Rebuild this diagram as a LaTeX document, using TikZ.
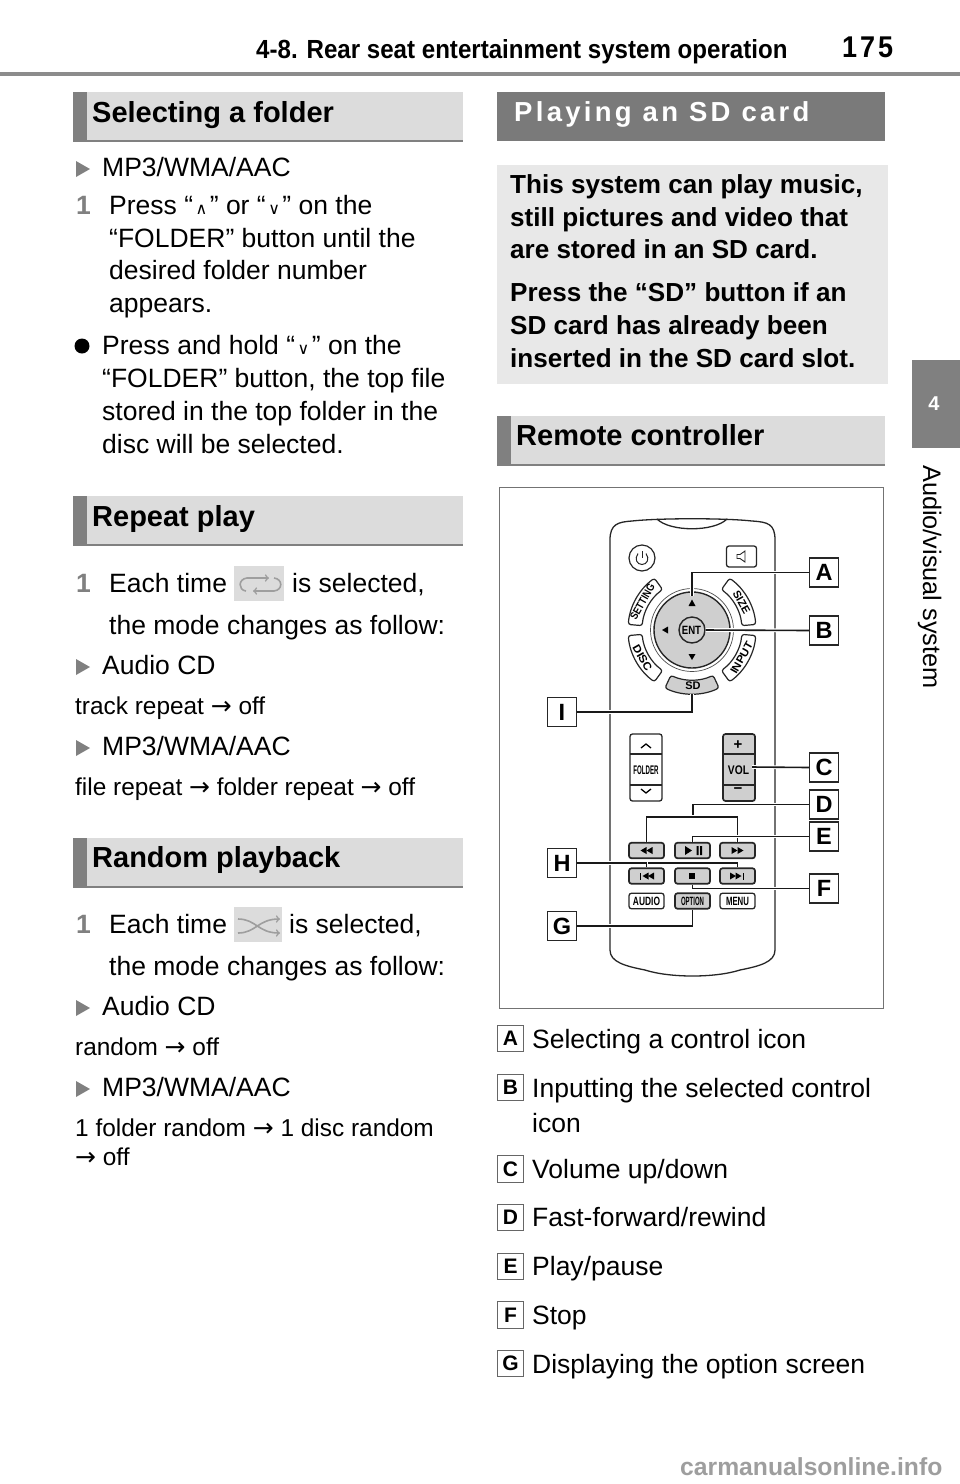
\documentclass[tikz,border=0pt]{standalone}
\usepackage{fontspec}
\setmainfont{Liberation Sans}
\newfontfamily\symfont{DejaVu Sans}
\newfontfamily\headfont[FakeStretch=0.92]{Liberation Sans}
\newfontfamily\spacedfont[LetterSpace=12]{Liberation Sans}
\newfontfamily\pagefont[LetterSpace=10,FakeStretch=0.9]{Liberation Sans}
\usetikzlibrary{positioning}
\definecolor{bandgray}{HTML}{DCDCDC}
\definecolor{stripgray}{HTML}{808080}
\definecolor{panelgray}{HTML}{E8E8E8}
\definecolor{keygray}{HTML}{CFCFCF}
\tikzset{
        bodytext/.style={anchor=base west, inner sep=0pt, font=\fontsize{26.5}{30}\selectfont},
        smalltext/.style={anchor=base west, inner sep=0pt, font=\fontsize{24.4}{26}\selectfont},
        stepnum/.style={anchor=base west, inner sep=0pt, text=stripgray, font=\fontsize{26.5}{30}\selectfont\bfseries},
        paneltext/.style={anchor=base west, inner sep=0pt, font=\fontsize{26.1}{30}\selectfont\bfseries},
        bandtitle/.style={anchor=base west, inner sep=0pt, font=\fontsize{29}{32}\selectfont\bfseries},
        band/.style={anchor=north west, inner sep=0pt, fill=bandgray, minimum width=390pt, minimum height=50pt},
        keylabel/.style={draw=black!85, fill=white, line width=1.5pt, minimum size=29pt, inner sep=0pt, font=\fontsize{23.5}{26}\selectfont\bfseries},
        itemlabel/.style={draw=black!60, line width=1.1pt, minimum size=26.5pt, inner sep=0pt, font=\fontsize{21}{24}\selectfont\bfseries},
        keybtn/.style={draw=black!85, rounded corners=2.5pt, line width=1.3pt, minimum width=35pt, minimum height=15.5pt, inner sep=0pt},
        graykey/.style={keybtn, fill=keygray, line width=1.7pt},
        keytext/.style={inner sep=0pt, font=\fontsize{12}{13}\selectfont\bfseries},
        padkey/.style={draw=black!85, line width=1.2pt, rounded corners=2.5pt},
        padtext/.style={inner sep=0pt, font=\fontsize{11}{12}\selectfont\bfseries},
        conn/.style={line width=1.6pt, black!90, preaction={draw=white, line width=3.8pt}},
        iconline/.style={draw=black!38, line width=1.6pt},
    }
\newcommand{\padsector}[3]{\draw[padkey, #3] (#1:64) arc[start angle=#1, end angle=#2, radius=64] -- (#2:50) arc[start angle=#2, end angle=#1, radius=50] -- cycle;}
\newcommand{\lefttri}[2]{\fill (#1+3,#2-3.5) -- (#1-3,#2) -- (#1+3,#2+3.5) -- cycle;}
\newcommand{\righttri}[2]{\fill (#1-3,#2-3.5) -- (#1+3,#2) -- (#1-3,#2+3.5) -- cycle;}
\newcommand{\upsym}{\hspace{2.5pt}{\symfont\fontsize{16}{16}\selectfont ∧}\hspace{2.5pt}}
\newcommand{\downsym}{\hspace{2.5pt}{\symfont\fontsize{16}{16}\selectfont ∨}\hspace{2.5pt}}
\newcommand{\rarr}{{\symfont\fontsize{25}{25}\selectfont →}}

\begin{document}
\begin{tikzpicture}[x=1pt, y=-1pt]
        \useasboundingbox (0,0) rectangle (960,1484);

        % Page head
        \node[anchor=base west, inner sep=0pt, font=\fontsize{26.2}{28}\selectfont\headfont\bfseries] (headline) at (256,58) {4-8. Rear seat entertainment system operation};
        \node[anchor=base west, inner sep=0pt, font=\fontsize{30}{34}\selectfont\pagefont\bfseries] (pagenum) at (842,57) {175};
        \fill[black!45] (0,72) rectangle (960,75.5);

        % Side tab
        \node[anchor=north west, inner sep=0pt, fill=stripgray, minimum width=48pt, minimum height=88pt] (sidetab) at (912,360) {};
        \node[text=white, inner sep=0pt, font=\fontsize{20}{22}\selectfont\bfseries] (tabnum) at (934,404) {4};
        \node[anchor=base west, inner sep=0pt, rotate=-90, font=\fontsize{25.3}{28}\selectfont] (tabtext) at (923,465) {Audio/visual system};

        % Section bands
        \foreach \bname/\by in {bandfolder/92, bandrepeat/496, bandrandom/838, bandremote/416}{
            \ifnum\by=416
                \node[band, minimum width=388pt] (\bname) at (497,\by) {};
                \fill[stripgray] (497,\by) rectangle (511,\by+50);
                \fill[stripgray] (497,\by+48) rectangle (885,\by+50);
            \else
                \node[band] (\bname) at (73,\by) {};
                \fill[stripgray] (73,\by) rectangle (87,\by+50);
                \fill[stripgray] (73,\by+48) rectangle (463,\by+50);
            \fi
        }
        \node[bandtitle] (titlefolder) at (92,122) {Selecting a folder};
        \node[bandtitle] (titlerepeat) at (92,526) {Repeat play};
        \node[bandtitle] (titlerandom) at (92,867) {Random playback};
        \node[bandtitle] (titleremote) at (516,445) {Remote controller};

        % Triangle bullets
        \foreach \by in {177,675,756,1016,1097}{
            \fill[stripgray] (76,\by-16) -- (90,\by-8) -- (76,\by) -- cycle;
        }
        \fill (82,346) circle (7.5);

        % Selecting a folder
        \node[bodytext] (sf1) at (102,176) {MP3/WMA/AAC};
        \node[stepnum] (sfn) at (76,214) {1};
        \node[bodytext] (sf2) at (109,214) {Press “\upsym” or “\downsym” on the};
        \node[bodytext] (sf3) at (109,247) {“FOLDER” button until the};
        \node[bodytext] (sf4) at (109,279) {desired folder number};
        \node[bodytext] (sf5) at (109,312) {appears.};
        \node[bodytext] (sf6) at (102,354) {Press and hold “\downsym” on the};
        \node[bodytext] (sf7) at (102,387) {“FOLDER” button, the top file};
        \node[bodytext] (sf8) at (102,420) {stored in the top folder in the};
        \node[bodytext] (sf9) at (102,453) {disc will be selected.};

        % Repeat play
        \node[stepnum] (rpn) at (76,592) {1};
        \node[bodytext] (rp1) at (109,592) {Each time};
        \node[anchor=north west, inner sep=0pt, fill=bandgray, minimum width=50pt, minimum height=35pt] (iconrepeat) at (234,566) {};
        \draw[iconline, ->] (246,591) .. controls (238,590) and (238,579) .. (247,578) -- (269,578);
        \draw[iconline, ->] (274,578) .. controls (283,579) and (283,590) .. (274,591) -- (253,591);
        \node[bodytext] (rp2) at (292,592) {is selected,};
        \node[bodytext] (rp3) at (109,634) {the mode changes as follow:};
        \node[bodytext] (rp4) at (102,674) {Audio CD};
        \node[smalltext] (rp5) at (75,714) {track repeat \rarr{} off};
        \node[bodytext] (rp6) at (102,755) {MP3/WMA/AAC};
        \node[smalltext] (rp7) at (75,795) {file repeat \rarr{} folder repeat \rarr{} off};

        % Random playback
        \node[stepnum] (rdn) at (76,933) {1};
        \node[bodytext] (rd1) at (109,933) {Each time};
        \node[anchor=north west, inner sep=0pt, fill=bandgray, minimum width=48pt, minimum height=35pt] (iconrandom) at (234,907) {};
        \draw[iconline, ->] (238,919) .. controls (256,919) and (258,933) .. (280,933);
        \draw[iconline, ->] (238,933) .. controls (256,933) and (258,919) .. (280,919);
        \node[bodytext] (rd2) at (289,933) {is selected,};
        \node[bodytext] (rd3) at (109,975) {the mode changes as follow:};
        \node[bodytext] (rd4) at (102,1015) {Audio CD};
        \node[smalltext] (rd5) at (75,1055) {random \rarr{} off};
        \node[bodytext] (rd6) at (102,1096) {MP3/WMA/AAC};
        \node[smalltext] (rd7) at (75,1136) {1 folder random \rarr{} 1 disc random};
        \node[smalltext] (rd8) at (75,1165) {\rarr{} off};

        % Playing an SD card
        \node[anchor=north west, inner sep=0pt, fill=black!52, minimum width=388pt, minimum height=49pt] (bandsd) at (497,92) {};
        \node[anchor=base west, inner sep=0pt, text=white, font=\fontsize{27.5}{30}\selectfont\spacedfont\bfseries] (titlesd) at (514,121) {Playing an SD card};
        \node[anchor=north west, inner sep=0pt, fill=panelgray, minimum width=391pt, minimum height=219pt] (sdpanel) at (497,165) {};
        \node[paneltext] (pt1) at (510,193) {This system can play music,};
        \node[paneltext] (pt2) at (510,226) {still pictures and video that};
        \node[paneltext] (pt3) at (510,258) {are stored in an SD card.};
        \node[paneltext] (pt4) at (510,301) {Press the “SD” button if an};
        \node[paneltext] (pt5) at (510,334) {SD card has already been};
        \node[paneltext] (pt6) at (510,367) {inserted in the SD card slot.};

        % Remote frame and body
        \node[anchor=north west, inner sep=0pt, draw=black!55, line width=0.9pt, minimum width=384pt, minimum height=521pt] (frame) at (499,487) {};
        \draw[line width=1.3pt, black!85] (610,950) -- (610,540) .. controls (610,524) and (618,522) .. (632,521) .. controls (660,518) and (725,518) .. (752,521) .. controls (768,522) and (775,524) .. (775,540) -- (775,950) .. controls (775,962) and (760,966) .. (740,970) .. controls (715,978) and (670,978) .. (645,970) .. controls (625,966) and (610,962) .. (610,950) -- cycle;
        \draw[line width=1.3pt, black!85] (657,519) .. controls (670,532) and (714,532) .. (727,519);

        % Top keys
        \node[circle, draw=black!85, line width=1.2pt, minimum size=26pt, inner sep=0pt] (power) at (642,558) {};
        \draw[line width=1pt, black!85] (642,551) -- (642,558);
        \draw[line width=1pt, black!85] (638,553.5) .. controls (634,559) and (637,564.5) .. (642,564.5) .. controls (647,564.5) and (650,559) .. (646,553.5);
        \node[keybtn, minimum width=30pt, minimum height=21pt] (mute) at (741.5,556.5) {};
        \draw[line width=0.9pt, black!85] (737,554.5) -- (740,554.5) -- (745,551) -- (745,562) -- (740,558.5) -- (737,558.5) -- cycle;

        % Round pad with its keys
        \node[circle, draw=black!70, line width=0.7pt, minimum size=83pt, inner sep=0pt] (padring) at (692,630) {};
        \node[circle, draw=black!85, fill=keygray, line width=1.4pt, minimum size=76pt, inner sep=0pt] (pad) at (692,630) {};
        \node[circle, draw=black!85, fill=keygray, line width=1.4pt, minimum size=26pt, inner sep=0pt] (ent) at (692,630) {};
        \node[keytext, xscale=.8] (enttext) at (691.5,630) {ENT};
        \lefttri{665}{630}
        \fill (692,599.5) -- (695.5,606) -- (688.5,606) -- cycle;
        \fill (692,660) -- (695.5,654) -- (688.5,654) -- cycle;
        \begin{scope}[shift={(692,630)}]
            \padsector{-175}{-126}{}
            \padsector{-54}{-5}{}
            \padsector{-234}{-185}{}
            \padsector{-355}{-306}{}
            \padsector{-295}{-245}{fill=keygray}
            \node[padtext, rotate=60.5, xscale=.82] (settingtext) at (-150.5:57) {SETTING};
            \node[padtext, rotate=-60.5] (sizetext) at (-29.5:57) {SIZE};
            \node[padtext, rotate=-60.5, xscale=1.08] (disctext) at (-209.5:57) {DISC};
            \node[padtext, rotate=60.5, xscale=1.05] (inputtext) at (-330.5:57) {INPUT};
        \end{scope}
        \node[keytext, font=\fontsize{11}{12}\selectfont\bfseries] (sdkey) at (693,686) {SD};

        % Folder and volume keys
        \node[keybtn, minimum width=32pt, minimum height=67pt] (folder) at (646,767.5) {};
        \draw[black!85, line width=1.1pt] (630,754) -- (662,754) (630,785) -- (662,785);
        \draw[line width=1.3pt] (641,748) -- (646,744) -- (651,748);
        \draw[line width=1.3pt] (641,789) -- (646,793) -- (651,789);
        \node[keytext, font=\fontsize{12.5}{13}\selectfont\bfseries, xscale=.49] (foldertext) at (646,770) {FOLDER};
        \node[graykey, minimum width=32pt, minimum height=67pt] (vol) at (739,767.5) {};
        \draw[black!85, line width=1.1pt] (723,754) -- (755,754) (723,785) -- (755,785);
        \node[keytext, font=\fontsize{15}{16}\selectfont\bfseries] (volplus) at (738,745) {+};
        \node[keytext, font=\fontsize{15}{16}\selectfont\bfseries] (volminus) at (738,790.5) {−};
        \node[keytext, font=\fontsize{12.5}{13}\selectfont\bfseries, xscale=.82] (voltext) at (738.5,770) {VOL};
        \coordinate (volend) at (752,767);

        % Transport keys
        \node[graykey] (btnrew) at (646.5,850.5) {};
        \node[graykey] (btnplay) at (692.5,850.5) {};
        \node[graykey] (btnfwd) at (737.5,850.5) {};
        \node[graykey] (btnprev) at (646.5,876) {};
        \node[graykey] (btnstop) at (692.5,876) {};
        \node[graykey] (btnnext) at (737.5,876) {};
        \node[keybtn] (btnaudio) at (646.5,901) {};
        \node[graykey] (btnoption) at (692.5,901) {};
        \node[keybtn] (btnmenu) at (737.5,901) {};
        \lefttri{643.5}{850.5} \lefttri{649.5}{850.5}
        \righttri{734.5}{850.5} \righttri{740.5}{850.5}
        \fill (685,846) -- (692,850.5) -- (685,855) -- cycle;
        \fill (696.5,846) rectangle (698.5,855) (700,846) rectangle (702,855);
        \lefttri{645.5}{876} \lefttri{651}{876}
        \fill (639.5,872.5) rectangle (641,879.5);
        \righttri{733}{876} \righttri{738.5}{876}
        \fill (742.5,872.5) rectangle (744,879.5);
        \fill (689,873) rectangle (695,879);
        \node[keytext, xscale=.7] (audiotext) at (646.5,901) {AUDIO};
        \node[keytext, xscale=.5] (optiontext) at (692.5,901) {OPTION};
        \node[keytext, xscale=.65] (menutext) at (737.5,901) {MENU};

        % Letter keys round the remote
        \node[keylabel] (lblA) at (824,572.5) {A};
        \node[keylabel] (lblB) at (824,630.5) {B};
        \node[keylabel] (lblC) at (824,767.5) {C};
        \node[keylabel] (lblD) at (824,804.5) {D};
        \node[keylabel] (lblE) at (824,836.5) {E};
        \node[keylabel] (lblF) at (824,888.5) {F};
        \node[keylabel] (lblI) at (562,712) {I};
        \node[keylabel] (lblH) at (562,863) {H};
        \node[keylabel] (lblG) at (562,926) {G};
        \coordinate (padtop) at (692,596);
        \coordinate (sdbottom) at (692,694);
        \coordinate (fwdjoin) at (693,817);

        % Leader lines
        \draw[conn] (lblA.west) -| (padtop);
        \draw[conn] (lblB.west) -- (ent.east);
        \draw[conn] (lblI.east) -| (sdbottom);
        \draw[conn] (lblC.west) -- (volend);
        \draw[conn] (lblD.west) -| (fwdjoin);
        \draw[conn] (btnrew.north) |- (fwdjoin) -| (btnfwd.north);
        \draw[conn] (lblE.west) -| (btnplay.north);
        \draw[conn] (lblF.west) -| (btnstop.south);
        \draw[conn] (lblH.east) -| (btnnext.north);
        \draw[conn] (lblH.east) -| (btnprev.north);
        \draw[conn] (lblG.east) -| (btnoption.south);

        % Key list
        \node[itemlabel] (itemA) at (510.5,1038.5) {A};
        \node[itemlabel] (itemB) at (510.5,1087.5) {B};
        \node[itemlabel] (itemC) at (510.5,1169) {C};
        \node[itemlabel] (itemD) at (510.5,1217.5) {D};
        \node[itemlabel] (itemE) at (510.5,1266.5) {E};
        \node[itemlabel] (itemF) at (510.5,1315) {F};
        \node[itemlabel] (itemG) at (510.5,1363.5) {G};
        \node[bodytext] (descA) at (532,1048) {Selecting a control icon};
        \node[bodytext] (descB) at (532,1097) {Inputting the selected control};
        \node[bodytext] (descB2) at (532,1132) {icon};
        \node[bodytext] (descC) at (532,1178) {Volume up/down};
        \node[bodytext] (descD) at (532,1226) {Fast-forward/rewind};
        \node[bodytext] (descE) at (532,1275) {Play/pause};
        \node[bodytext] (descF) at (532,1324) {Stop};
        \node[bodytext] (descG) at (532,1373) {Displaying the option screen};

        % Watermark
        \node[anchor=base west, inner sep=0pt, text=black!38, font=\fontsize{24.7}{26}\selectfont\bfseries] (mark) at (680,1475) {carmanualsonline.info};

    \end{tikzpicture}
\end{document}
